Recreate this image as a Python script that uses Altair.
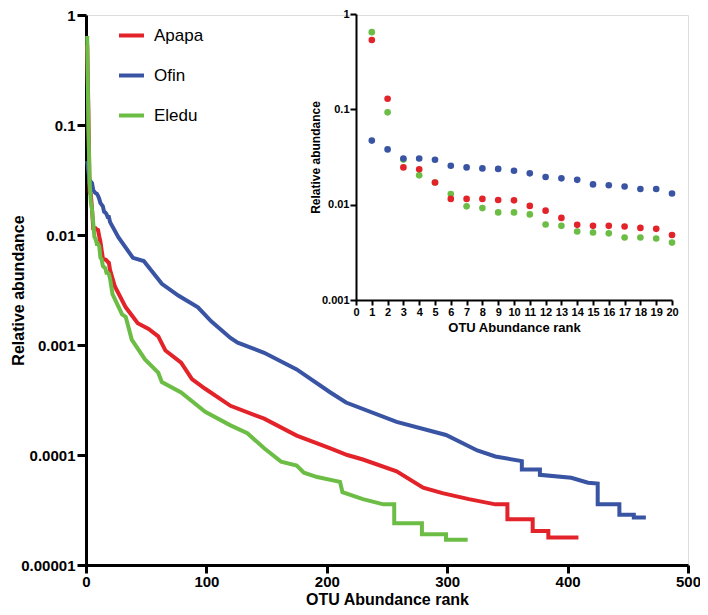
import altair as alt
import pandas as pd

series_names = ["Apapa", "Ofin", "Eledu"]
series_colors = ["#e3232a", "#3a54a4", "#6cbd45"]

# Inset: top 20 ranks
inset_ranks = list(range(1, 21))
apapa_top = [0.533, 0.129, 0.0246, 0.0235, 0.0171, 0.0115, 0.0115, 0.0115, 0.0112, 0.0111,
             0.0097, 0.00865, 0.00726, 0.00614, 0.0060, 0.0060, 0.0059, 0.0057, 0.00558, 0.0048]
ofin_top = [0.047, 0.038, 0.0305, 0.0305, 0.0296, 0.0256, 0.0246, 0.024, 0.0237, 0.0227,
            0.0213, 0.0195, 0.0189, 0.0182, 0.0163, 0.016, 0.0155, 0.0146, 0.0146, 0.0131]
eledu_top = [0.645, 0.093, 0.0297, 0.0203, 0.0171, 0.0129, 0.0096, 0.0092, 0.0083, 0.0083,
             0.0079, 0.0062, 0.0060, 0.00523, 0.0051, 0.0050, 0.00453, 0.00453, 0.00442, 0.0040]

# Main curves beyond rank 20 (rank, value readings)
ofin_ranks = [27, 39, 48, 63, 77, 93, 104, 120, 126, 148, 175, 203, 216, 258, 299, 325, 340,
              362, 362, 377, 377, 403, 417, 425, 425, 443, 443, 455, 455, 465]
ofin_vals = [0.0095, 0.0062, 0.0058, 0.0036, 0.0028, 0.0022, 0.00164, 0.00116, 0.00105, 0.00085,
             0.0006, 0.00037, 0.0003, 0.0002, 0.000152, 0.00011, 9.7e-5,
             8.8e-5, 7.4e-5, 7.4e-5, 6.6e-5, 6.2e-5, 5.6e-5, 5.5e-5, 3.56e-5, 3.56e-5, 2.86e-5,
             2.86e-5, 2.7e-5, 2.7e-5]

apapa_ranks = [24, 33, 43, 52, 60, 66, 79, 88, 99, 120, 148, 175, 203, 217, 230, 258, 280, 296,
               318, 340, 350, 350, 371, 371, 384, 384, 409]
apapa_vals = [0.0034, 0.0022, 0.00158, 0.0014, 0.0012, 0.00089, 0.00069, 0.00049, 0.0004, 0.00028,
              0.000214, 0.00015, 0.000115, 0.0001, 9.1e-5, 7.1e-5, 5.05e-5, 4.5e-5, 3.97e-5,
              3.56e-5, 3.56e-5, 2.6e-5, 2.6e-5, 2.04e-5, 2.04e-5, 1.78e-5, 1.78e-5]

eledu_ranks = [22, 30, 33, 38, 49, 60, 63, 79, 99, 120, 134, 148, 162, 175, 181, 192, 211, 213,
               230, 247, 256, 256, 279, 279, 299, 299, 317]
eledu_vals = [0.0029, 0.0019, 0.0018, 0.00112, 0.00074, 0.00056, 0.00046, 0.00037, 0.000247,
              0.000186, 0.000158, 0.000115, 8.7e-5, 8.0e-5, 6.9e-5, 6.3e-5, 5.7e-5, 4.6e-5,
              3.97e-5, 3.56e-5, 3.56e-5, 2.4e-5, 2.4e-5, 1.9e-5, 1.9e-5, 1.7e-5, 1.7e-5]

main_x_ticks = [0, 100, 200, 300, 400, 500]
main_y_ticks = [1, 0.1, 0.01, 0.001, 0.0001, 0.00001]
inset_x_ticks = list(range(0, 21))
inset_y_ticks = [1, 0.1, 0.01, 0.001]

# Build tables
main_rows = []
for name, top, rks, vals in [("Apapa", apapa_top, apapa_ranks, apapa_vals),
                             ("Ofin", ofin_top, ofin_ranks, ofin_vals),
                             ("Eledu", eledu_top, eledu_ranks, eledu_vals)]:
    all_r = inset_ranks + rks
    all_v = top + vals
    for i, (r, v) in enumerate(zip(all_r, all_v)):
        main_rows.append({"series": name, "rank": r, "value": v, "idx": i})
main_df = pd.DataFrame(main_rows)

inset_rows = []
for name, top in [("Eledu", eledu_top), ("Apapa", apapa_top), ("Ofin", ofin_top)]:
    for r, v in zip(inset_ranks, top):
        inset_rows.append({"series": name, "rank": r, "value": v})
inset_df = pd.DataFrame(inset_rows)

FONT = "Liberation Sans"
W, H = 602, 550

color_scale = alt.Scale(domain=series_names, range=series_colors)

lines = alt.Chart(main_df).mark_line(strokeWidth=4, strokeJoin="miter").encode(
    x=alt.X("rank:Q",
            scale=alt.Scale(domain=[0, 500], nice=False),
            axis=alt.Axis(values=main_x_ticks, title="OTU Abundance rank", format="d",
                          labelFontSize=15, labelFontWeight="bold", labelFont=FONT,
                          labelPadding=1, tickSize=8, tickWidth=3, domainWidth=3,
                          labelFlush=False,
                          titleFontSize=16, titleFontWeight="bold", titleFont=FONT,
                          titleY=26, labelColor="black", titleColor="black",
                          domainColor="black", tickColor="black", grid=False)),
    y=alt.Y("value:Q",
            scale=alt.Scale(type="log", domain=[0.00001, 1], nice=False),
            axis=alt.Axis(values=main_y_ticks, title="Relative abundance", format=".5~f",
                          labelFontSize=15, labelFontWeight="bold", labelFont=FONT,
                          labelPadding=2, tickSize=9, tickWidth=3, domainWidth=3,
                          labelFlush=False,
                          titleFontSize=16, titleFontWeight="bold", titleFont=FONT,
                          titleX=-60, labelColor="black", titleColor="black",
                          domainColor="black", tickColor="black", grid=False)),
    color=alt.Color("series:N", scale=color_scale, sort=series_names,
                    legend=alt.Legend(title=None, orient="none", legendX=31, legendY=6,
                                      symbolType="stroke", symbolStrokeWidth=4,
                                      symbolSize=625, labelFontSize=17, labelFont=FONT,
                                      labelColor="black", rowPadding=17, labelOffset=8,
                                      padding=0)),
    order="idx:Q",
)

points = alt.Chart(inset_df).mark_circle(size=44, opacity=1).encode(
    x=alt.X("rank:Q",
            scale=alt.Scale(domain=[0, 20], nice=False, range=[270, 586]),
            axis=alt.Axis(values=inset_x_ticks, title="OTU Abundance rank", orient="bottom",
                          offset=-265, format="d", labelFlush=False,
                          labelFontSize=11, labelFontWeight="bold", labelFont=FONT,
                          labelPadding=1, tickSize=5, tickWidth=2, domainWidth=2,
                          titleFontSize=13, titleFontWeight="bold", titleFont=FONT,
                          titlePadding=4, labelColor="black", titleColor="black",
                          domainColor="black", tickColor="black", grid=False,
                          labelOverlap=False)),
    y=alt.Y("value:Q",
            scale=alt.Scale(type="log", domain=[0.001, 1], nice=False, range=[285, -1]),
            axis=alt.Axis(values=inset_y_ticks, title="Relative abundance", orient="left",
                          offset=-270, format=".3~f", labelFlush=False,
                          labelFontSize=11, labelFontWeight="bold", labelFont=FONT,
                          labelPadding=1, tickSize=6, tickWidth=2, domainWidth=2,
                          titleFontSize=12, titleFontWeight="bold", titleFont=FONT,
                          titleX=-34, labelColor="black", titleColor="black",
                          domainColor="black", tickColor="black", grid=False)),
    color=alt.Color("series:N", scale=color_scale, legend=None),
)

chart = alt.layer(lines, points).resolve_scale(
    x="independent", y="independent"
).resolve_legend(color="independent").properties(
    width=W, height=H,
    autosize=alt.AutoSizeParams(type="none"),
    padding={"left": 78, "top": 7, "right": 12, "bottom": 42},
).configure_view(stroke=None).configure(background="white")

chart.save("out.html", embed_options={"renderer": "svg", "actions": False})
